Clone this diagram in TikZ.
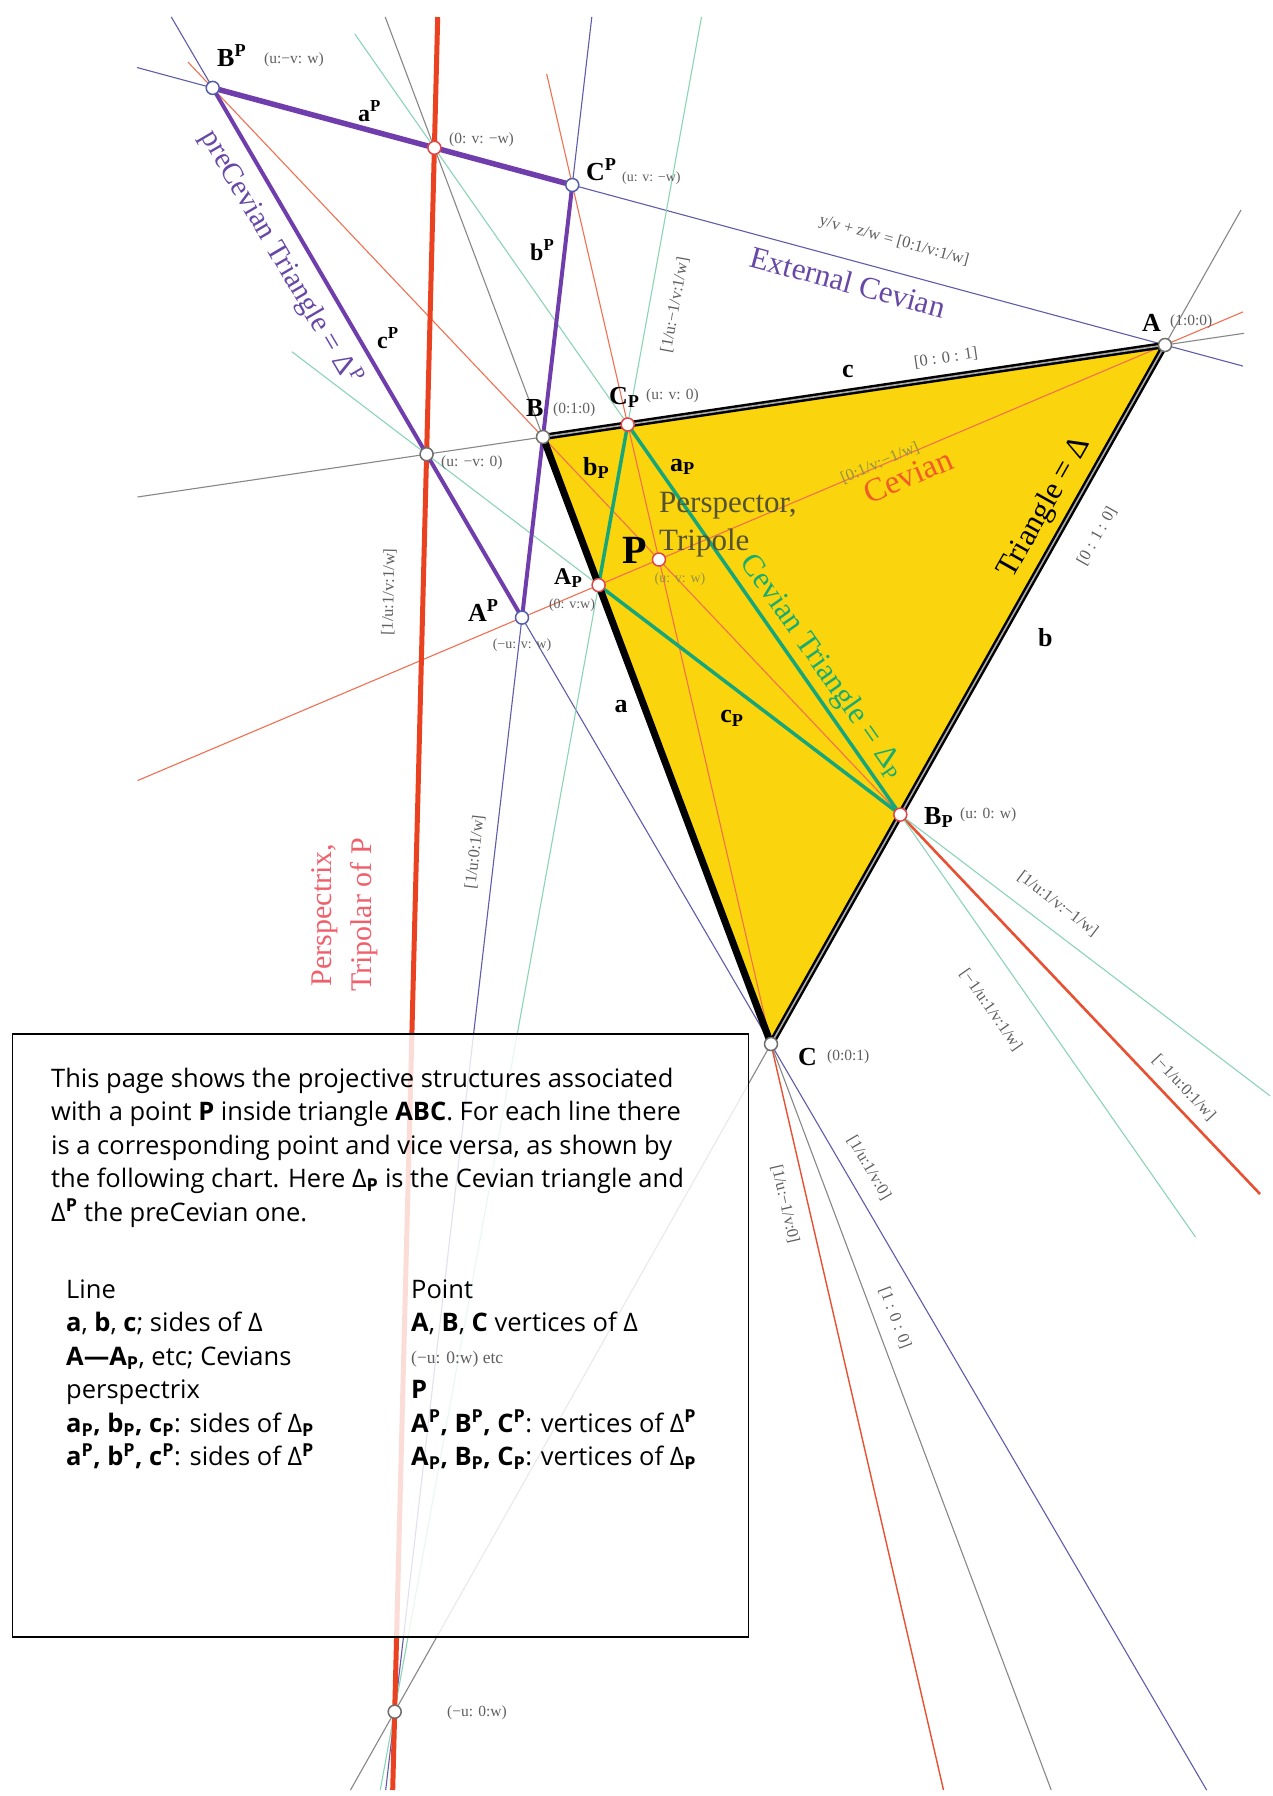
\documentclass[tikz,border=0pt]{standalone}
\usepackage{fontspec}
\setmainfont{Liberation Serif}
\newfontfamily\boxfont{Open Sans}
\usetikzlibrary{calc}
\definecolor{gold}{RGB}{250,212,12}
\definecolor{lgrey}{RGB}{135,135,135}
\definecolor{lorange}{RGB}{242,112,82}
\definecolor{dred}{RGB}{232,80,50}
\definecolor{perspred}{RGB}{234,66,32}
\definecolor{lviolet}{RGB}{96,92,172}
\definecolor{lgreen}{RGB}{140,212,182}
\definecolor{tpurple}{RGB}{112,62,172}
\definecolor{tgreen}{RGB}{22,166,122}
\definecolor{labgrey}{RGB}{95,95,95}
\definecolor{ptgreyc}{RGB}{110,110,110}
\definecolor{ptredc}{RGB}{226,70,70}
\definecolor{ptbluec}{RGB}{84,94,168}
\definecolor{olivelab}{RGB}{150,145,70}
\definecolor{perspectortxt}{RGB}{85,82,50}
\definecolor{pinklab}{RGB}{240,96,108}
\definecolor{cevorange}{RGB}{242,92,40}
\definecolor{extpurple}{RGB}{104,72,166}
\definecolor{cevgreen}{RGB}{24,172,112}
\begin{document}
\begin{tikzpicture}[x=1pt,y=-1pt,
  thinl/.style={line width=1.1pt},
  greyl/.style={thinl, draw=lgrey},
  orl/.style={thinl, draw=lorange},
  vil/.style={thinl, draw=lviolet},
  grl/.style={thinl, draw=lgreen},
  ptbase/.style={circle, fill=white, minimum size=13pt, inner sep=0pt, line width=1.5pt},
  ptgrey/.style={ptbase, draw=ptgreyc},
  ptred/.style={ptbase, draw=ptredc},
  ptblue/.style={ptbase, draw=ptbluec},
  vlab/.style={inner sep=0pt, anchor=base west, font=\fontsize{26}{28}\selectfont\bfseries},
  slab/.style={inner sep=0pt, anchor=base west, font=\fontsize{24}{26}\selectfont\bfseries},
  coordlab/.style={inner sep=0pt, anchor=base west, text=labgrey, font=\fontsize{15.5}{17}\selectfont},
  linelab/.style={inner sep=0pt, text=labgrey, font=\fontsize{16.5}{18}\selectfont},
  boxtext/.style={inner sep=0pt, anchor=base west, font=\boxfont\fontsize{25.5}{30}\selectfont},
  bigserif/.style={inner sep=0pt, font=\fontsize{31}{33}\selectfont},
]
\useasboundingbox (0,0) rectangle (1273,1796);
\fill[white] (0,0) rectangle (1273,1796);

% main points
\coordinate (A) at (1165,345);
\coordinate (B) at (543,437);
\coordinate (C) at (771,1044);
\coordinate (P) at (658.95,559.52);
\coordinate (Asub) at (598.6,585.1);
\coordinate (Bsub) at (900.3,814.6);
\coordinate (Csub) at (627.7,424.5);
\coordinate (Asup) at (522.0,617.6);
\coordinate (Bsup) at (212.7,87.9);
\coordinate (Csup) at (572.3,185.0);
\coordinate (Xa) at (434.4,147.8);
\coordinate (Xc) at (426.6,454.2);
\coordinate (Xb) at (394.7,1711.7);
% free ends of the extended lines
\coordinate (ABl) at (137.5,497.0);  \coordinate (ABr) at (1244,333.3);
\coordinate (ACt) at (1241,210);     \coordinate (ACb) at (350.5,1790);
\coordinate (BCt) at (385.2,17);     \coordinate (BCb) at (1051.2,1790);
\coordinate (CeAr) at (1243,311.9);  \coordinate (CeAl) at (137.5,780.6);
\coordinate (CeBt) at (188,62.1);    \coordinate (CeBb) at (1260,1194);
\coordinate (CeCt) at (546.7,74);    \coordinate (CeCb) at (943.5,1790);
\coordinate (EaL) at (137,67.5);     \coordinate (EaR) at (1243,366.1);
\coordinate (EbT) at (591.8,17);     \coordinate (EbB) at (385.7,1790);
\coordinate (EcT) at (171.3,17);     \coordinate (EcB) at (1206.6,1790);
\coordinate (PxT) at (437.7,17);     \coordinate (PxB) at (392.7,1790);
\coordinate (GaT) at (354.8,34);     \coordinate (GaB) at (1195.5,1237);
\coordinate (GbT) at (701.5,17);     \coordinate (GbB) at (380.3,1790);
\coordinate (GcL) at (292,351.8);    \coordinate (GcR) at (1270,1095.8);

% yellow triangle
\fill[gold] (A) -- (B) -- (C) -- cycle;

% thin lines
\draw[greyl] (ABl) -- (ABr);
\draw[greyl] (ACt) -- (ACb);
\draw[greyl] (BCt) -- (BCb);
\draw[orl] (CeAl) -- (CeAr);
\draw[orl] (CeBt) -- (Bsub);
\draw[draw=dred, line width=2.6pt] (Bsub) -- (CeBb);
\draw[orl] (CeCt) -- (C);
\draw[draw=dred, line width=1.4pt] (C) -- (CeCb);
\draw[vil] (EaL) -- (EaR);
\draw[vil] (EbT) -- (EbB);
\draw[vil] (EcT) -- (EcB);
\draw[grl] (GaT) -- (GaB);
\draw[grl] (GbT) -- (GbB);
\draw[grl] (GcL) -- (GcR);

% thick lines
\draw[perspred, line width=5pt] (PxT) -- (PxB);
\draw[tpurple, line width=5.5pt, line cap=round] (Bsup) -- (Csup);
\draw[tpurple, line width=4pt, line cap=round, line join=round] (Csup) -- (Asup) -- (Bsup);
\draw[tgreen, line width=3.5pt, line join=round] (Asub) -- (Bsub) -- (Csub) -- cycle;
\draw[black, line width=6.5pt] (C) -- (A) -- (B);
\draw[lgrey!70!white, line width=1.6pt] (C) -- (A) -- (B);
\draw[black, line width=7pt] (B) -- (C);

% text box
\node[draw=black, line width=1.5pt, fill=white, fill opacity=0.82, minimum width=736pt, minimum height=603pt, anchor=north west, inner sep=0pt] (textbox) at (11.5,1033) {};
\node[boxtext] (t1) at (51,1087) {This page shows the projective structures associated};
\node[boxtext] (t2) at (51,1120.5) {with a point \textbf{P} inside triangle \textbf{ABC}. For each line there};
\node[boxtext] (t3) at (51,1154) {is a corresponding point and vice versa, as shown by};
\node[boxtext] (t4) at (51,1187.5) {the following chart. Here Δ\textsubscript{\textbf{P}} is the Cevian triangle and};
\node[boxtext] (t5) at (51,1221) {Δ\textsuperscript{\textbf{P}} the preCevian one.};

\node[boxtext] (l0) at (66,1298) {Line};
\node[boxtext] (l1) at (66,1331.5) {\textbf{a}, \textbf{b}, \textbf{c}; sides of Δ};
\node[boxtext] (l2) at (66,1365) {\textbf{A—A\textsubscript{P}}, etc; Cevians};
\node[boxtext] (l3) at (66,1398.5) {perspectrix};
\node[boxtext] (l4) at (66,1432) {\textbf{a\textsubscript{P}, b\textsubscript{P}, c\textsubscript{P}}: sides of Δ\textsubscript{\textbf{P}}};
\node[boxtext] (l5) at (66,1465.5) {\textbf{a\textsuperscript{P}, b\textsuperscript{P}, c\textsuperscript{P}}: sides of Δ\textsuperscript{\textbf{P}}};

\node[boxtext] (r0) at (411,1298) {Point};
\node[boxtext] (r1) at (411,1331.5) {\textbf{A}, \textbf{B}, \textbf{C} vertices of Δ};
\node[boxtext, text=labgrey, font=\fontsize{17.5}{19}\selectfont] (r2) at (411,1363) {(−u: 0:w) etc};
\node[boxtext] (r3) at (411,1398.5) {\textbf{P}};
\node[boxtext] (r4) at (411,1432) {\textbf{A\textsuperscript{P}, B\textsuperscript{P}, C\textsuperscript{P}}: vertices of Δ\textsuperscript{\textbf{P}}};
\node[boxtext] (r5) at (411,1465.5) {\textbf{A\textsubscript{P}, B\textsubscript{P}, C\textsubscript{P}}: vertices of Δ\textsubscript{\textbf{P}}};

% points
\node[ptgrey] (nA) at (A) {};
\node[ptgrey] (nB) at (B) {};
\node[ptgrey] (nC) at (C) {};
\node[ptred] (nP) at (P) {};
\node[ptred] (nAsub) at (Asub) {};
\node[ptred] (nBsub) at (Bsub) {};
\node[ptred] (nCsub) at (Csub) {};
\node[ptblue] (nAsup) at (Asup) {};
\node[ptblue] (nBsup) at (Bsup) {};
\node[ptblue] (nCsup) at (Csup) {};
\node[ptred] (nXa) at (Xa) {};
\node[ptgrey] (nXc) at (Xc) {};
\node[ptgrey] (nXb) at (Xb) {};

% vertex labels
\node[vlab] (lBsup) at (217,66) {B\textsuperscript{P}};
\node[coordlab] (cBsup) at (264,63) {(u:−v: w)};
\node[slab] (laP) at (358,121) {a\textsuperscript{P}};
\node[coordlab] (cXa) at (449,143) {(0: v: −w)};
\node[vlab] (lCsup) at (586,180) {C\textsuperscript{P}};
\node[coordlab, font=\fontsize{14}{16}\selectfont] (cCsup) at (622,181) {(u: v: −w)};
\node[slab] (lbP) at (530,260) {b\textsuperscript{P}};
\node[slab] (lcP) at (377,348) {c\textsuperscript{P}};
\node[vlab] (lB) at (526,416) {B};
\node[coordlab] (cB) at (553,413) {(0:1:0)};
\node[vlab] (lCsub) at (609,404) {C\textsubscript{P}};
\node[coordlab] (cCsub) at (646,399) {(u: v: 0)};
\node[vlab] (lc) at (842,377) {c};
\node[linelab, rotate=8.4] (kc) at (946,358) {[0 : 0 : 1]};
\node[vlab] (lA) at (1142,331) {A};
\node[coordlab] (cA) at (1170,325) {(1:0:0)};
\node[coordlab] (cXc) at (441,466) {(u: −v: 0)};
\node[vlab] (lbsub) at (583,475) {b\textsubscript{P}};
\node[vlab] (lasub) at (670,471) {a\textsubscript{P}};
\node[bigserif, anchor=base west, text=perspectortxt] (lpersp1) at (659,512) {Perspector,};
\node[bigserif, anchor=base west, text=perspectortxt] (lpersp2) at (659,550) {Tripole};
\node[vlab, font=\fontsize{40}{42}\selectfont\bfseries] (lP) at (622,563) {P};
\node[linelab, text=olivelab, font=\fontsize{14}{16}\selectfont] (cP) at (680,579) {(u: v: w)};
\node[linelab, text=olivelab, rotate=23] (kceA) at (880,463) {[0:1/v:−1/w]};
\node[bigserif, text=cevorange, rotate=23, font=\fontsize{33}{35}\selectfont] (lcev) at (908,476) {Cevian};
\node[bigserif, rotate=60.6] (ltri) at (1045,508) {Triangle = Δ};
\node[linelab, rotate=60.6] (kb) at (1097,536) {[0 : 1 : 0]};
\node[vlab] (lb) at (1038,646) {b};
\node[slab] (lAsub) at (554,584) {A\textsubscript{P}};
\node[linelab, font=\fontsize{14}{16}\selectfont] (cAsub) at (572,605) {(0: v:w)};
\node[vlab] (lAsup) at (468,621) {A\textsuperscript{P}};
\node[linelab, font=\fontsize{14}{16}\selectfont] (cAsup) at (522,645) {(−u: v: w)};
\node[vlab, anchor=center] (la) at (621,707) {a};
\node[vlab, anchor=center] (lcsub) at (732,718) {c\textsubscript{P}};
\node[bigserif, text=cevgreen, rotate=-55] (lcevtri) at (822,667) {Cevian Triangle = Δ\textsubscript{P}};
\node[vlab] (lBsub) at (924,824) {B\textsubscript{P}};
\node[coordlab] (cBsub) at (960,818) {(u: 0: w)};
\node[linelab, rotate=-37.3] (kcP) at (1058,904) {[1/u:1/v:−1/w]};
\node[linelab, rotate=-55] (kaP) at (991,1010) {[−1/u:1/v:1/w]};
\node[linelab, rotate=-46.6] (kceB) at (1184,1088) {[−1/u:0:1/w]};
\node[vlab] (lC) at (798,1065) {C};
\node[coordlab] (cC) at (827,1060) {(0:0:1)};
\node[linelab, rotate=-59.7] (kcsup) at (869,1168) {[1/u:1/v:0]};
\node[linelab, rotate=-77] (kceC) at (785,1204) {[1/u:−1/v:0]};
\node[linelab, rotate=-69.4] (ka) at (895,1318) {[1 : 0 : 0]};
\node[linelab, rotate=79.7] (kbP) at (675,305) {[1/u:−1/v:1/w]};
\node[linelab, rotate=88.5] (kpx) at (389,592) {[1/u:1/v:1/w]};
\node[linelab, rotate=83.4] (kbsup) at (475,852) {[1/u:0:1/w]};
\node[bigserif, text=pinklab, rotate=90, font=\fontsize{30}{32}\selectfont] (lpx1) at (325,915) {Perspectrix,};
\node[bigserif, text=pinklab, rotate=90, font=\fontsize{30}{32}\selectfont] (lpx2) at (364,915) {Tripolar of P};
\node[coordlab] (cXb) at (447,1716) {(−u: 0:w)};
\node[bigserif, text=extpurple, rotate=-59.7, font=\fontsize{29.5}{31}\selectfont] (lprecev) at (281,258) {preCevian Triangle = Δ\textsuperscript{P}};
\node[bigserif, text=extpurple, rotate=-15.1] (lext) at (848,282) {External Cevian};
\node[linelab, rotate=-15.1] (kext) at (894,241) {y/v + z/w = [0:1/v:1/w]};
\end{tikzpicture}
\end{document}
